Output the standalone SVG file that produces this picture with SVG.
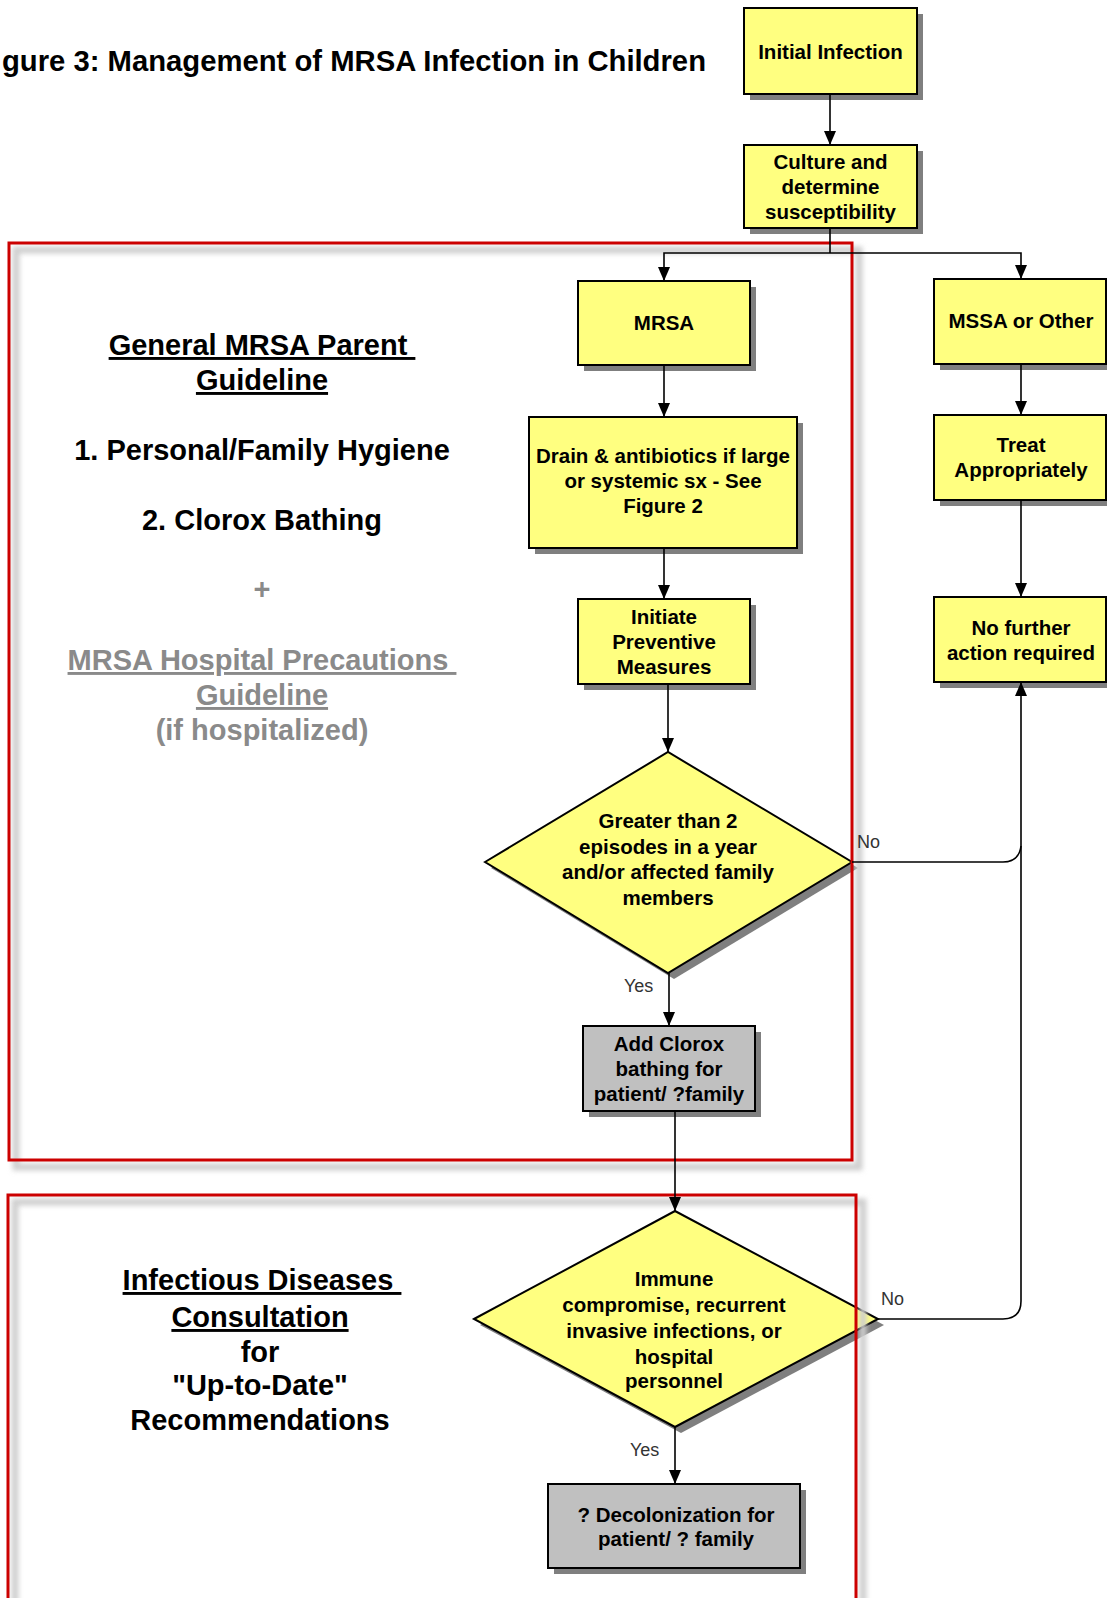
<svg xmlns="http://www.w3.org/2000/svg" width="1107" height="1598" viewBox="0 0 1107 1598">
<defs>
<style>
.box{fill:#ffff80;stroke:#000;stroke-width:2}
.gbox{fill:#c0c0c0;stroke:#000;stroke-width:2}
.sh{fill:#7f7f7f}
.t{font-family:"Liberation Sans",Arial,sans-serif;font-weight:bold;font-size:20.5px;text-anchor:middle;fill:#000}
.lbl{font-family:"Liberation Sans",Arial,sans-serif;font-size:18px;fill:#333}
.big{font-family:"Liberation Sans",Arial,sans-serif;font-weight:bold;font-size:29px;text-anchor:middle;fill:#000}
.gray{fill:#8a8a8a}
.u{text-decoration:underline}
.c{fill:none;stroke:#000;stroke-width:1.6}
.frame{fill:none;stroke:#cc0000;stroke-width:3}
.fsh{fill:none;stroke:#cfcfcf;stroke-width:7}
</style>
<filter id="blur" x="-5%" y="-5%" width="110%" height="110%"><feGaussianBlur stdDeviation="2.5"/></filter>
<marker id="ah" markerUnits="userSpaceOnUse" markerWidth="14" markerHeight="12" refX="14" refY="6" orient="auto"><path d="M0,0 L14,6 L0,12 z" fill="#000"/></marker>
</defs>
<rect width="1107" height="1598" fill="#fff"/>

<text id="title" x="2" y="71" font-family="'Liberation Sans',Arial,sans-serif" font-weight="bold" font-size="30" textLength="704" lengthAdjust="spacingAndGlyphs">gure 3: Management of MRSA Infection in Children</text>

<g id="n-initial">
<rect class="sh" x="750" y="14" width="173" height="86"/>
<rect class="box" x="744" y="8" width="173" height="86"/>
<text class="t" x="830.5" y="59">Initial Infection</text>
</g>
<g id="n-culture">
<rect class="sh" x="750" y="151" width="173" height="83"/>
<rect class="box" x="744" y="145" width="173" height="83"/>
<text class="t" x="830.5" y="169">Culture and</text>
<text class="t" x="830.5" y="194">determine</text>
<text class="t" x="830.5" y="219">susceptibility</text>
</g>
<g id="n-mrsa">
<rect class="sh" x="584" y="287" width="172" height="84"/>
<rect class="box" x="578" y="281" width="172" height="84"/>
<text class="t" x="664" y="330">MRSA</text>
</g>
<g id="n-mssa">
<rect class="sh" x="940" y="285" width="172" height="85"/>
<rect class="box" x="934" y="279" width="172" height="85"/>
<text class="t" x="1021" y="328">MSSA or Other</text>
</g>
<g id="n-drain">
<rect class="sh" x="535" y="423" width="268" height="131"/>
<rect class="box" x="529" y="417" width="268" height="131"/>
<text class="t" x="663" y="463">Drain &amp; antibiotics if large</text>
<text class="t" x="663" y="488">or systemic sx - See</text>
<text class="t" x="663" y="513">Figure 2</text>
</g>
<g id="n-treat">
<rect class="sh" x="940" y="421" width="172" height="85"/>
<rect class="box" x="934" y="415" width="172" height="85"/>
<text class="t" x="1021" y="452">Treat</text>
<text class="t" x="1021" y="477">Appropriately</text>
</g>
<g id="n-initiate">
<rect class="sh" x="584" y="605" width="172" height="85"/>
<rect class="box" x="578" y="599" width="172" height="85"/>
<text class="t" x="664" y="624">Initiate</text>
<text class="t" x="664" y="649">Preventive</text>
<text class="t" x="664" y="674">Measures</text>
</g>
<g id="n-nofurther">
<rect class="sh" x="940" y="603" width="172" height="85"/>
<rect class="box" x="934" y="597" width="172" height="85"/>
<text class="t" x="1021" y="635">No further</text>
<text class="t" x="1021" y="660">action required</text>
</g>
<g id="n-dec1">
<polygon class="sh" points="491,868 674,758 858,868 674,979"/>
<polygon class="box" points="485,862 668,752 852,862 668,973"/>
<text class="t" x="668" y="828">Greater than 2</text>
<text class="t" x="668" y="853.5">episodes in a year</text>
<text class="t" x="668" y="879">and/or affected family</text>
<text class="t" x="668" y="904.5">members</text>
</g>
<g id="n-clorox">
<rect class="sh" x="589" y="1032" width="172" height="85"/>
<rect class="gbox" x="583" y="1026" width="172" height="85"/>
<text class="t" x="669" y="1051">Add Clorox</text>
<text class="t" x="669" y="1076">bathing for</text>
<text class="t" x="669" y="1101">patient/ ?family</text>
</g>
<g id="n-dec2">
<polygon class="sh" points="480,1325 681,1217 884,1325 681,1433"/>
<polygon class="box" points="474,1319 675,1211 878,1319 675,1427"/>
<text class="t" x="674" y="1286">Immune</text>
<text class="t" x="674" y="1312">compromise, recurrent</text>
<text class="t" x="674" y="1338">invasive infections, or</text>
<text class="t" x="674" y="1364">hospital</text>
<text class="t" x="674" y="1388">personnel</text>
</g>
<g id="n-decol">
<rect class="sh" x="554" y="1490" width="252" height="84"/>
<rect class="gbox" x="548" y="1484" width="252" height="84"/>
<text class="t" x="676" y="1522">? Decolonization for</text>
<text class="t" x="676" y="1546">patient/ ? family</text>
</g>

<g id="frame-parent">
<rect class="fsh" filter="url(#blur)" x="16" y="250" width="843" height="917"/>
<rect class="frame" x="9" y="243" width="843" height="917"/>
<text class="big u" x="262" y="355">General MRSA Parent&#160;</text>
<text class="big u" x="262" y="390">Guideline</text>
<text class="big" x="262" y="460">1. Personal/Family Hygiene</text>
<text class="big" x="262" y="530">2. Clorox Bathing</text>
<text class="big gray" x="262" y="599">+</text>
<text class="big gray u" x="262" y="670">MRSA Hospital Precautions&#160;</text>
<text class="big gray u" x="262" y="705">Guideline</text>
<text class="big gray" x="262" y="740">(if hospitalized)</text>
</g>
<g id="frame-id">
<rect class="fsh" filter="url(#blur)" x="15" y="1202" width="848" height="440"/>
<rect class="frame" x="8" y="1195" width="848" height="440"/>
<text class="big u" x="262" y="1290">Infectious Diseases&#160;</text>
<text class="big u" x="260" y="1327">Consultation</text>
<text class="big" x="260" y="1362">for</text>
<text class="big" x="260" y="1395">"Up-to-Date"</text>
<text class="big" x="260" y="1430">Recommendations</text>
</g>

<g id="connectors">
<path class="c" d="M830,94 V145" marker-end="url(#ah)"/>
<path class="c" d="M830,228 V253"/>
<path class="c" d="M830,253 H664 V281" marker-end="url(#ah)"/>
<path class="c" d="M830,253 H1021 V279" marker-end="url(#ah)"/>
<path class="c" d="M664,365 V417" marker-end="url(#ah)"/>
<path class="c" d="M664,548 V599" marker-end="url(#ah)"/>
<path class="c" d="M668,684 V752" marker-end="url(#ah)"/>
<path class="c" d="M669,973 V1026" marker-end="url(#ah)"/>
<path class="c" d="M675,1111 V1211" marker-end="url(#ah)"/>
<path class="c" d="M675,1427 V1484" marker-end="url(#ah)"/>
<path class="c" d="M1021,364 V415" marker-end="url(#ah)"/>
<path class="c" d="M1021,500 V597" marker-end="url(#ah)"/>
<path class="c" d="M852,862 H1003 Q1019,862 1021,846"/>
<path class="c" d="M878,1319 H1003 Q1021,1319 1021,1301 V682" marker-end="url(#ah)"/>
<text class="lbl" x="857" y="848">No</text>
<text class="lbl" x="881" y="1305">No</text>
<text class="lbl" x="624" y="992">Yes</text>
<text class="lbl" x="630" y="1456">Yes</text>
</g>
</svg>
